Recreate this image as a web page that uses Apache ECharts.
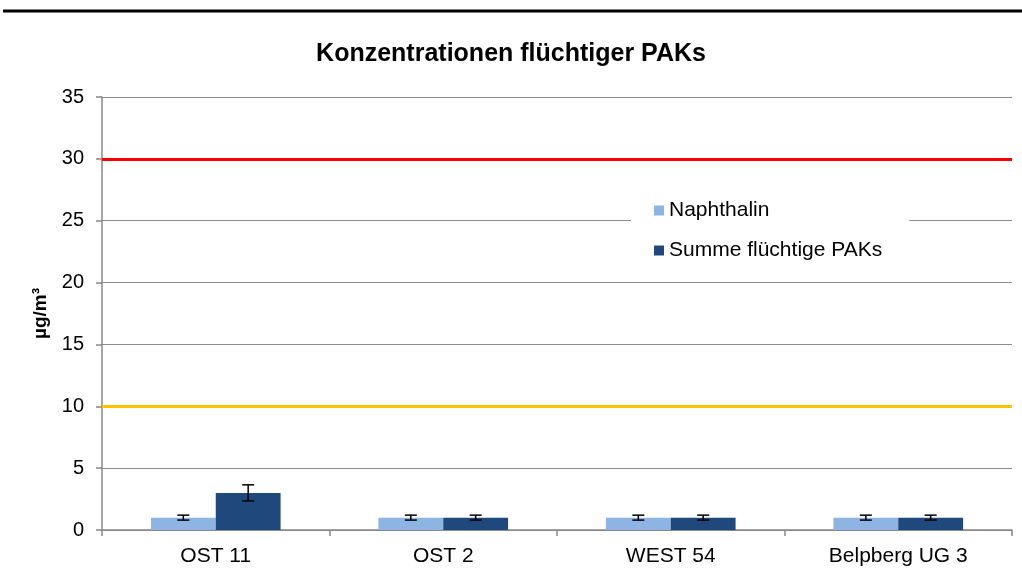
<!DOCTYPE html>
<html>
<head>
<meta charset="utf-8">
<script src="https://cdn.jsdelivr.net/npm/echarts@6/dist/echarts.min.js"></script>
<style>
  html, body { margin: 0; padding: 0; background: #fff; }
  #chart { width: 1022px; height: 569px; }
</style>
</head>
<body>
<div id="chart"></div>
<script>
const categories = ['OST 11', 'OST 2', 'WEST 54', 'Belpberg UG 3'];
const naphthalin = [1, 1, 1, 1];
const naphthalinErr = [0.2, 0.2, 0.2, 0.2];
const summe = [3, 1, 1, 1];
const summeErr = [0.65, 0.2, 0.2, 0.2];
const limitHigh = 30;
const limitLow = 10;

const gapRatio = 0.43;
const font = 'Arial, "Liberation Sans", sans-serif';

function errorSeries(name, values, errs, side) {
    return {
        name: name + ' Fehler',
        type: 'custom',
        z: 5,
        data: values.map((v, i) => [i, v, errs[i]]),
        encode: { x: 0, y: 1 },
        renderItem: function (params, api) {
            const idx = api.value(0)
            const v = api.value(1)
            const e = api.value(2)
            const catW = api.size([1, 0])[0]
            const bw = catW * (1 - gapRatio) / 2
            const top = api.coord([idx, v + e])
            const bot = api.coord([idx, v - e])
            const x = top[0] + side * bw / 2
            const cap = 6
            const style = { stroke: '#000', lineWidth: 1.5 }
            return {
                type: 'group',
                children: [
                    { type: 'line', shape: { x1: x, y1: top[1], x2: x, y2: bot[1] }, style: style },
                    { type: 'line', shape: { x1: x - cap, y1: top[1], x2: x + cap, y2: top[1] }, style: style },
                    { type: 'line', shape: { x1: x - cap, y1: bot[1], x2: x + cap, y2: bot[1] }, style: style }
                ]
            }
        }
    }
}

const chart = echarts.init(document.getElementById('chart'));
chart.setOption({
    animation: false,
    textStyle: { fontFamily: font },
    graphic: [{
        type: 'line',
        shape: { x1: 3, y1: 11, x2: 1022, y2: 11 },
        style: { stroke: '#000', lineWidth: 3 }
    }],
    title: {
        text: 'Konzentrationen flüchtiger PAKs',
        left: 'center',
        top: 37,
        textStyle: { fontSize: 25, fontWeight: 'bold', color: '#000', fontFamily: font }
    },
    legend: {
        data: ['Naphthalin', 'Summe flüchtige PAKs'],
        orient: 'vertical',
        left: 631,
        top: 188,
        padding: [12, 27, 12, 23],
        backgroundColor: '#fff',
        itemWidth: 10,
        itemHeight: 10,
        itemGap: 19,
        icon: 'rect',
        textStyle: { fontSize: 21, color: '#000', fontFamily: font }
    },
    grid: { left: 102, right: 10, top: 97, bottom: 39 },
    xAxis: {
        type: 'category',
        data: categories,
        axisLine: { lineStyle: { color: '#888', width: 1.5 } },
        axisTick: { show: true, length: 6, lineStyle: { color: '#888', width: 1.5 } },
        axisLabel: { color: '#000', fontSize: 21, margin: 16, fontFamily: font }
    },
    yAxis: {
        type: 'value',
        min: 0,
        max: 35,
        interval: 5,
        name: 'µg/m³',
        nameLocation: 'middle',
        nameGap: 52,
        nameRotate: 90,
        nameTextStyle: { color: '#000', fontSize: 19, fontWeight: 'bold', fontFamily: font },
        axisLine: { show: true, lineStyle: { color: '#888', width: 1.5 } },
        axisTick: { show: true, length: 6, lineStyle: { color: '#888', width: 1.5 } },
        axisLabel: { color: '#000', fontSize: 20, margin: 18, fontFamily: font },
        splitLine: { lineStyle: { color: '#8c8c8c', width: 1.2 } }
    },
    series: [
        {
            name: 'Naphthalin',
            type: 'bar',
            data: naphthalin,
            barGap: 0,
            barCategoryGap: (gapRatio * 100) + '%',
            itemStyle: { color: '#8DB4E2' },
            markLine: {
                silent: true,
                symbol: 'none',
                label: { show: false },
                data: [
                    { yAxis: limitHigh, lineStyle: { color: '#FF0000', width: 3, type: 'solid' } },
                    { yAxis: limitLow, lineStyle: { color: '#FFC000', width: 3, type: 'solid' } }
                ]
            }
        },
        {
            name: 'Summe flüchtige PAKs',
            type: 'bar',
            data: summe,
            barGap: 0,
            barCategoryGap: (gapRatio * 100) + '%',
            itemStyle: { color: '#1F497D' }
        },
        errorSeries('Naphthalin', naphthalin, naphthalinErr, -1),
        errorSeries('Summe', summe, summeErr, 1)
    ]
});
</script>
</body>
</html>
